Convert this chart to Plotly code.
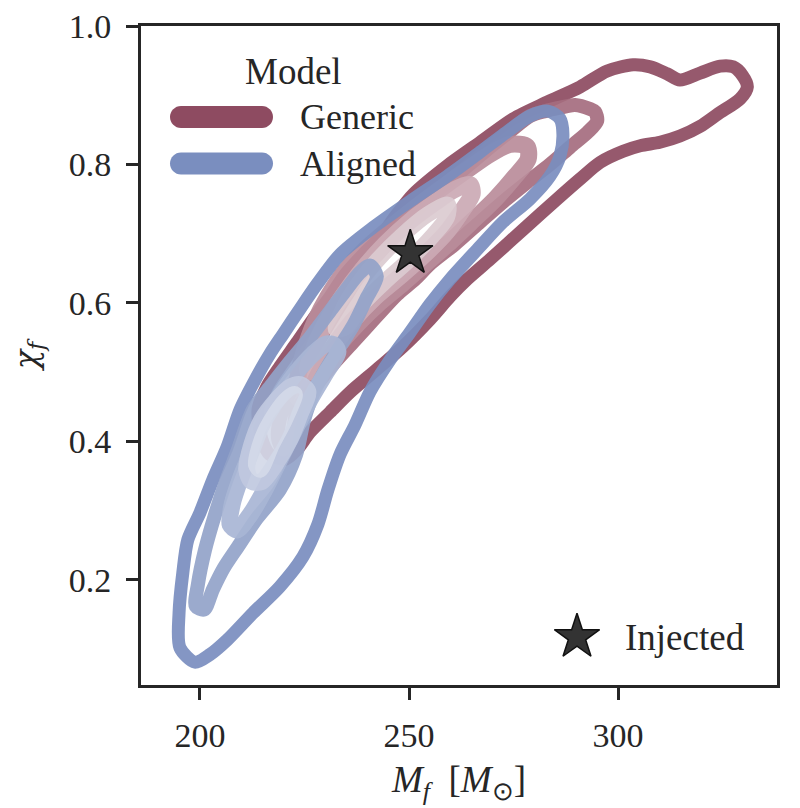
import plotly.graph_objects as go

# ---------------- data ----------------
# Generic model: contour levels, outer -> inner  (final mass M_f, final spin chi_f)
g1_mass = [213.9, 216.0, 219.1, 223.2, 227.0, 231.1, 234.7, 239.0, 243.1, 247.1, 251.0, 259.1, 267.0,
           274.9, 283.0, 290.9, 297.4, 303.6, 307.7, 311.7, 314.8, 319.6, 324.4, 327.5, 329.7, 330.9,
           329.2, 323.9, 319.6, 314.8, 310.0, 305.3, 301.2, 295.7, 290.9, 285.4, 278.2, 269.4, 263.9,
           259.8, 255.0, 248.6, 242.3, 235.9, 231.1, 226.3, 223.2, 220.3, 216.7, 214.8, 213.9]
g1_chi = [0.446, 0.479, 0.508, 0.543, 0.576, 0.609, 0.641, 0.670, 0.695, 0.728, 0.757, 0.798, 0.832,
          0.866, 0.890, 0.912, 0.935, 0.944, 0.941, 0.931, 0.922, 0.932, 0.942, 0.941, 0.929, 0.912,
          0.895, 0.873, 0.855, 0.841, 0.832, 0.827, 0.819, 0.803, 0.779, 0.750, 0.711, 0.663, 0.634,
          0.609, 0.576, 0.537, 0.504, 0.471, 0.442, 0.413, 0.388, 0.374, 0.381, 0.403, 0.446]

g2_mass = [293.3, 289.7, 286.1, 282.5, 278.9, 274.2, 268.2, 261.7, 255.0, 249.0, 243.5, 238.8, 234.7,
           231.1, 227.5, 223.9, 221.1, 219.1, 218.7, 219.9, 222.0, 223.2, 227.5, 231.8, 236.6, 242.3,
           247.1, 251.4, 255.0, 261.0, 267.0, 272.5, 278.2, 283.7, 288.5, 292.8, 295.0, 294.5, 293.3]
g2_chi = [0.880, 0.886, 0.882, 0.877, 0.870, 0.848, 0.819, 0.786, 0.753, 0.718, 0.677, 0.646, 0.608,
          0.573, 0.537, 0.501, 0.465, 0.432, 0.403, 0.388, 0.405, 0.446, 0.479, 0.511, 0.543, 0.581,
          0.612, 0.634, 0.656, 0.685, 0.717, 0.746, 0.774, 0.800, 0.825, 0.847, 0.863, 0.876, 0.880]

g3_mass = [278.2, 274.2, 269.4, 263.4, 257.4, 251.0, 245.0, 239.5, 234.7, 230.6, 227.5, 225.1, 223.4,
           223.4, 225.8, 228.7, 232.8, 237.8, 243.1, 248.3, 253.8, 259.3, 265.1, 270.6, 275.4, 278.5, 278.2]
g3_chi = [0.826, 0.829, 0.815, 0.790, 0.764, 0.735, 0.706, 0.677, 0.646, 0.609, 0.573, 0.533, 0.492,
          0.463, 0.468, 0.501, 0.536, 0.570, 0.601, 0.627, 0.656, 0.685, 0.718, 0.750, 0.783, 0.808, 0.826]

g4_mass = [264.6, 261.0, 256.2, 250.2, 244.3, 238.8, 234.0, 229.9, 227.0, 225.8, 228.2, 231.8, 236.4,
           241.9, 247.8, 253.8, 259.1, 262.9, 265.1, 264.6]
g4_chi = [0.771, 0.764, 0.745, 0.718, 0.685, 0.648, 0.609, 0.569, 0.530, 0.501, 0.504, 0.536, 0.573,
          0.608, 0.638, 0.670, 0.703, 0.735, 0.757, 0.771]

g5_mass = [259.3, 254.5, 248.6, 242.6, 237.8, 234.2, 232.5, 234.9, 238.8, 244.3, 250.2, 255.5, 259.1, 259.3]
g5_chi = [0.742, 0.728, 0.699, 0.663, 0.627, 0.591, 0.562, 0.565, 0.598, 0.631, 0.663, 0.696, 0.724, 0.742]

# Aligned model: contour levels, outer -> inner
a1_mass = [198.8, 195.2, 195.0, 195.9, 197.1, 200.0, 203.1, 206.5, 209.6, 213.2, 216.7, 219.9, 223.9,
           228.0, 233.5, 241.4, 251.0, 259.1, 267.0, 273.4, 278.9, 283.2, 286.1, 286.8, 286.1, 283.7,
           278.9, 272.5, 266.3, 259.8, 255.0, 250.2, 245.5, 240.7, 237.1, 233.5, 230.6, 228.2, 224.6,
           219.1, 212.7, 206.5, 202.4, 198.8]
a1_chi = [0.081, 0.102, 0.152, 0.210, 0.258, 0.297, 0.345, 0.392, 0.446, 0.489, 0.526, 0.555, 0.591,
          0.627, 0.670, 0.709, 0.750, 0.783, 0.818, 0.847, 0.870, 0.877, 0.866, 0.844, 0.812, 0.783,
          0.750, 0.717, 0.677, 0.634, 0.598, 0.557, 0.518, 0.472, 0.424, 0.381, 0.330, 0.280, 0.233,
          0.190, 0.152, 0.113, 0.092, 0.081]

a2_mass = [240.7, 242.3, 239.7, 236.8, 233.5, 230.4, 227.3, 224.9, 223.0, 219.1, 213.4, 209.1, 205.7,
           203.1, 201.0, 199.0, 199.5, 201.2, 203.6, 206.2, 208.9, 212.7, 217.2, 221.5, 226.3, 231.1,
           234.7, 238.3, 240.7]
a2_chi = [0.654, 0.638, 0.605, 0.569, 0.537, 0.507, 0.472, 0.431, 0.381, 0.330, 0.287, 0.248, 0.217,
          0.186, 0.157, 0.162, 0.193, 0.243, 0.294, 0.342, 0.385, 0.446, 0.482, 0.515, 0.550, 0.588,
          0.617, 0.644, 0.654]

a3_mass = [231.8, 233.0, 229.9, 226.3, 222.7, 219.1, 215.5, 212.0, 208.9, 207.2, 207.7, 209.6, 212.0,
           214.8, 218.4, 222.7, 227.0, 229.9, 231.8]
a3_chi = [0.540, 0.530, 0.497, 0.460, 0.417, 0.374, 0.330, 0.294, 0.272, 0.280, 0.309, 0.345, 0.381,
          0.424, 0.460, 0.497, 0.526, 0.540, 0.540]

a4_mass = [223.9, 225.8, 223.9, 221.5, 217.9, 214.8, 212.4, 211.2, 212.4, 214.8, 218.4, 221.5, 223.9]
a4_chi = [0.482, 0.472, 0.439, 0.403, 0.366, 0.342, 0.342, 0.359, 0.395, 0.431, 0.460, 0.478, 0.482]

a5_mass = [222.7, 220.3, 217.2, 214.4, 213.4, 214.8, 217.9, 221.1, 222.7]
a5_chi = [0.468, 0.431, 0.395, 0.359, 0.366, 0.403, 0.439, 0.463, 0.468]

generic_levels = [(g1_mass, g1_chi), (g2_mass, g2_chi), (g3_mass, g3_chi), (g4_mass, g4_chi), (g5_mass, g5_chi)]
aligned_levels = [(a1_mass, a1_chi), (a2_mass, a2_chi), (a3_mass, a3_chi), (a4_mass, a4_chi), (a5_mass, a5_chi)]

generic_colors = ["#8e4b61", "#a66d7f", "#ba8d9b", "#ccaab5", "#dccbd1"]
aligned_colors = ["#7a8ebf", "#93a3c9", "#a9b6d5", "#c1c9e0", "#d4dae9"]
level_widths = [13, 14, 17, 17, 16]

injected_mass = [250.3]
injected_chi = [0.672]

series_names = ["Generic", "Aligned"]
legend_title = "Model"

# ---------------- styling ----------------
FONT = "Liberation Serif"
INK = "#262626"

fig = go.Figure()

for (mx, cy), col, w in zip(generic_levels, generic_colors, level_widths):
    fig.add_trace(go.Scatter(x=mx, y=cy, mode="lines",
                             line=dict(color=col, width=w, shape="spline", smoothing=0.8),
                             opacity=0.92, showlegend=False, hoverinfo="skip"))
for (mx, cy), col, w in zip(aligned_levels, aligned_colors, level_widths):
    fig.add_trace(go.Scatter(x=mx, y=cy, mode="lines",
                             line=dict(color=col, width=w, shape="spline", smoothing=0.8),
                             opacity=0.92, showlegend=False, hoverinfo="skip"))

# injected point
fig.add_trace(go.Scatter(x=injected_mass, y=injected_chi, mode="markers",
                         marker=dict(symbol="star", size=34, color="#333333",
                                     line=dict(color="#111111", width=1.5)),
                         showlegend=False, hoverinfo="skip"))

# ---- legend (drawn manually to reproduce thick, round-capped handles) ----
L, R, T, B = 141, 777, 26, 685
PW, PH = R - L, B - T

def px2paper(px, py):
    return (px - L) / PW, (B - py) / PH

def pill(cx, cy, w, h, color):
    a = w / 2 - h / 2
    r = h / 2
    k = 0.5523 * r
    path = (f"M {-a},{-r} L {a},{-r} "
            f"C {a + k},{-r} {a + r},{-k} {a + r},0 "
            f"C {a + r},{k} {a + k},{r} {a},{r} "
            f"L {-a},{r} "
            f"C {-a - k},{r} {-a - r},{k} {-a - r},0 "
            f"C {-a - r},{-k} {-a - k},{-r} {-a},{-r} Z")
    xa, ya = px2paper(cx, cy)
    return dict(type="path", xref="paper", yref="paper", xsizemode="pixel", ysizemode="pixel",
                xanchor=xa, yanchor=ya, path=path, fillcolor=color, line=dict(width=0), layer="above")

shapes = []
annotations = []
tx, ty = px2paper(293, 71)
annotations.append(dict(x=tx, y=ty, xref="paper", yref="paper", text=legend_title, showarrow=False,
                        xanchor="center", yanchor="middle", font=dict(family=FONT, size=37, color=INK)))
for i, (name, col) in enumerate(zip(series_names, [generic_colors[0], aligned_colors[0]])):
    yc = 117 + i * 46.5
    shapes.append(pill(221.5, yc, 103, 22, col))
    lx, ly = px2paper(298, yc)
    annotations.append(dict(x=lx, y=ly, xref="paper", yref="paper", text=name, showarrow=False,
                            xanchor="left", yanchor="middle", font=dict(family=FONT, size=36, color=INK)))

# Injected legend entry
sx, sy = px2paper(577, 637)
fig.add_trace(go.Scatter(x=[sx], y=[sy], xaxis="x2", yaxis="y2", mode="markers",
                         marker=dict(symbol="star", size=34, color="#333333",
                                     line=dict(color="#111111", width=1.5)),
                         showlegend=False, hoverinfo="skip"))
ix, iy = px2paper(623, 637)
annotations.append(dict(x=ix, y=iy, xref="paper", yref="paper", text="Injected", showarrow=False,
                        xanchor="left", yanchor="middle", font=dict(family=FONT, size=37, color=INK)))

axis_common = dict(showgrid=False, zeroline=False, showline=True, linewidth=3, linecolor=INK,
                   mirror=True, ticks="outside", ticklen=12, tickwidth=2.5, tickcolor=INK,
                   automargin=False, tickfont=dict(family=FONT, size=34, color=INK))

fig.update_layout(
    width=800, height=808,
    margin=dict(l=L, r=800 - R, t=T, b=808 - B, autoexpand=False),
    paper_bgcolor="white", plot_bgcolor="white",
    showlegend=False,
    xaxis=dict(range=[185.9, 338.0], tickvals=[200, 250, 300], ticklabelstandoff=6,
               title=dict(text="<i>M</i><sub><i>f</i></sub>  [<i>M</i><sub>⊙</sub>]",
                          font=dict(family=FONT, size=37, color=INK), standoff=14),
               **axis_common),
    yaxis=dict(range=[0.048, 1.0], tickvals=[0.2, 0.4, 0.6, 0.8, 1.0], ticktext=["0.2", "0.4", "0.6", "0.8", "1.0"],
               ticklabelstandoff=8,
               title=dict(text="<i>χ</i><sub><i>f</i></sub>",
                          font=dict(family="DejaVu Serif", size=32, color=INK), standoff=22),
               **axis_common),
    xaxis2=dict(range=[0, 1], overlaying="x", visible=False),
    yaxis2=dict(range=[0, 1], overlaying="y", visible=False),
    shapes=shapes,
    annotations=annotations,
)

fig.write_html("out.html")
